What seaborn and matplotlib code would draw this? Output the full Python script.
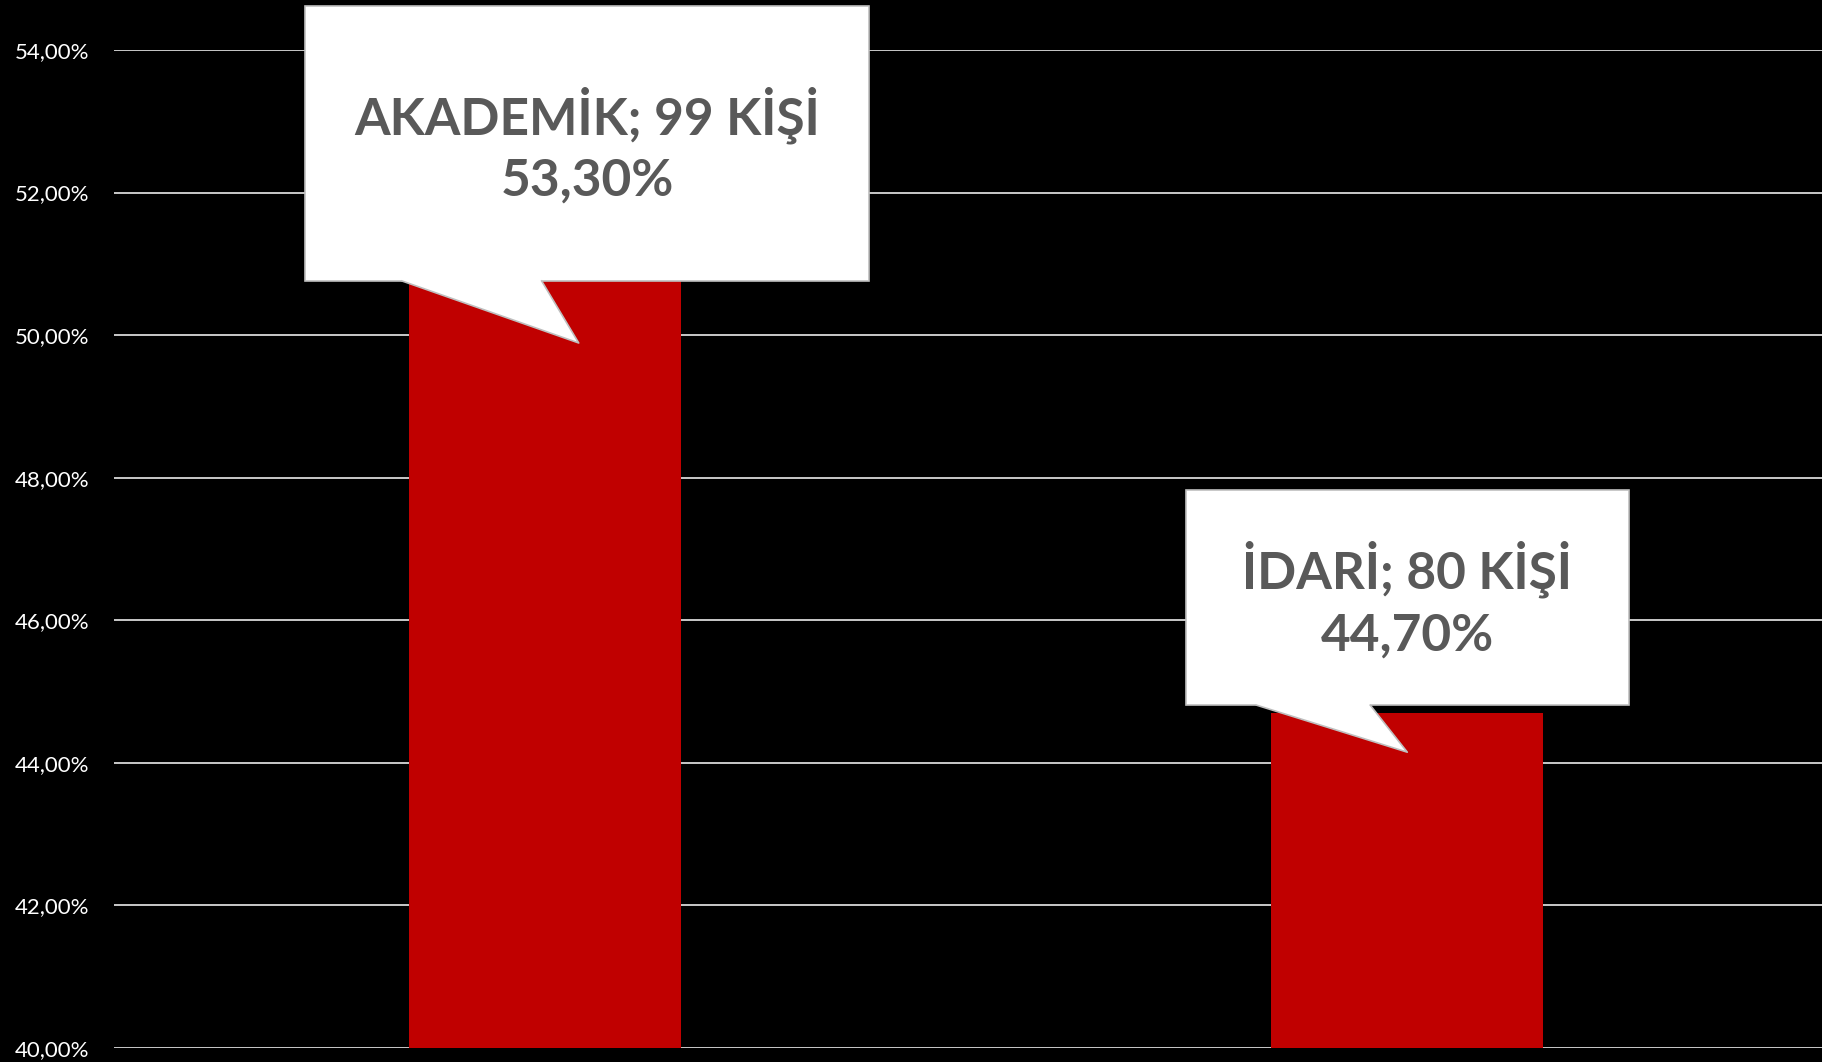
import matplotlib
matplotlib.use("Agg")
import matplotlib.pyplot as plt
from matplotlib.patches import Rectangle, Polygon
from matplotlib.ticker import FuncFormatter
import seaborn as sns

# chart data
categories = ["AKADEMİK", "İDARİ"]
people = [99, 80]
shares = [53.3, 44.7]

# callout placement (data units)
box_shift = [0.049, 0.0]
box_halfwidth = [0.327, 0.257]
box_top = [54.62, 47.83]
box_bottom = [50.76, 44.81]
pointer_base = [(-0.166, -0.004), (-0.175, -0.043)]
pointer_tip_x = [0.039, 0.0]
pointer_tip_y = [49.89, 44.15]

bar_color = "#C00000"
text_color = "#595959"
edge_color = "#bfbfbf"

plt.rcParams["font.family"] = ["Lato", "DejaVu Sans"]

fig = plt.figure(figsize=(18.22, 10.62), dpi=100, facecolor="black")
ax = fig.add_axes([114 / 1822, 14 / 1062, 1708 / 1822, 998 / 1062])
ax.set_facecolor("black")

sns.barplot(x=categories, y=shares, color=bar_color, saturation=1,
            width=0.315, ax=ax, zorder=2)

ax.set_ylim(40, 54)
ax.set_xlim(-0.5, 1.481)
ax.set_yticks([40, 42, 44, 46, 48, 50, 52, 54])
ax.yaxis.set_major_formatter(FuncFormatter(lambda v, p: f"{v:.2f}%".replace(".", ",")))
ax.grid(axis="y", color="white", linewidth=1.1, zorder=0)
ax.set_axisbelow(True)
ax.tick_params(axis="y", length=0, pad=18, labelsize=16, labelcolor="white")
ax.tick_params(axis="x", length=0, labelbottom=False)
ax.set_xlabel("")
ax.set_ylabel("")
for s in ax.spines.values():
    s.set_visible(False)

# callouts
for i in range(len(categories)):
    cx = i + box_shift[i]
    rect = Rectangle((cx - box_halfwidth[i], box_bottom[i]), 2 * box_halfwidth[i],
                     box_top[i] - box_bottom[i], facecolor="white", edgecolor=edge_color,
                     linewidth=1.2, zorder=5, clip_on=False)
    ax.add_patch(rect)
    b0 = i + pointer_base[i][0]
    b1 = i + pointer_base[i][1]
    tx = i + pointer_tip_x[i]
    ptr = Polygon([(b0, box_bottom[i] + 0.05), (b0, box_bottom[i]), (tx, pointer_tip_y[i]),
                   (b1, box_bottom[i]), (b1, box_bottom[i] + 0.05)],
                  closed=True, facecolor="white", edgecolor="none", zorder=6, clip_on=False)
    ax.add_patch(ptr)
    ax.plot([b0, tx, b1], [box_bottom[i], pointer_tip_y[i], box_bottom[i]],
            color=edge_color, linewidth=1.2, zorder=6, clip_on=False)
    label = f"{categories[i]}; {people[i]} KİŞİ\n{shares[i]:.2f}%".replace(".", ",")
    ax.text(cx, (box_top[i] + box_bottom[i]) / 2 - 0.03, label, ha="center", va="center",
            fontsize=37, fontweight="bold", color=text_color, linespacing=1.38,
            zorder=7)

fig.savefig("out.png", dpi=100, facecolor="black")
